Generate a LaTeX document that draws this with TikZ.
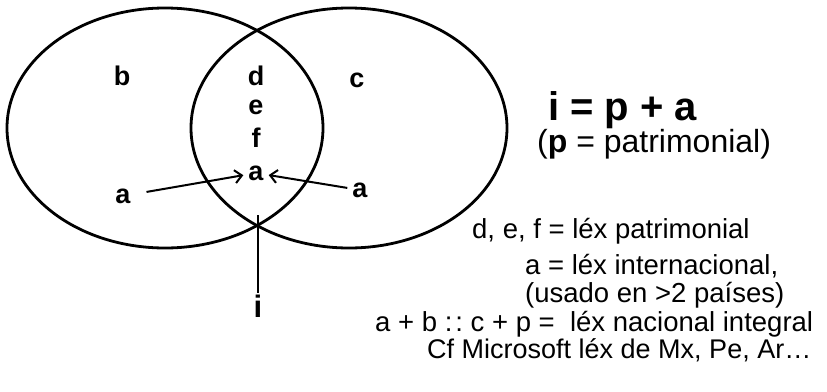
\documentclass[tikz,border=0pt]{standalone}
\usepackage{fontspec}
\setmainfont{Liberation Sans}
\usetikzlibrary{arrows.meta}
\tikzstyle{set} = [line width=2.8pt]
\tikzstyle{elem} = [font=\fontsize{27}{27}\selectfont\bfseries, inner sep=2pt]
\tikzstyle{arrow} = [line width=2pt,-{Straight Barb[length=7pt,width=13pt]}]
\tikzstyle{note} = [font=\fontsize{27.5}{29}\selectfont, anchor=base west, inner sep=0pt]

\begin{document}
\begin{tikzpicture}[x=1pt,y=-1pt]
\useasboundingbox (0,0) rectangle (827,391);

% the two sets
\draw[set] (165,128) ellipse [x radius=158pt, y radius=120pt];
\draw[set] (349,128) ellipse [x radius=158pt, y radius=120pt];

% elements
\node[elem] (b) at (122,76) {b};
\node[elem] (c) at (357,80) {c};
\node[elem] (d) at (256,76) {d};
\node[elem] (e) at (256,107) {e};
\node[elem] (f) at (256,138) {f};
\node[elem] (amid) at (256,173) {a};
\node[elem] (aleft) at (123,196) {a};
\node[elem] (aright) at (360,190) {a};
\node[elem, font=\fontsize{31}{31}\selectfont\bfseries] (i) at (258,306) {i};
\coordinate (ibot) at (258,215);

\draw[arrow, shorten <=14pt, shorten >=3pt] (aleft) -- (amid);
\draw[arrow, shorten <=3pt, shorten >=3pt] (aright) -- (amid);
\draw[line width=2.2pt] (ibot) -- (i);

% notes on the right
\node[note, font=\fontsize{40}{40}\selectfont\bfseries] (eq) at (548,120) {i = p + a};
\node[note, font=\fontsize{32}{32}\selectfont] (eqp) at (537,152) {(\textbf{p} = patrimonial)};
\node[note] (n1) at (472,238) {d, e, f = léx patrimonial};
\node[note] (n2) at (525,274) {a = léx internacional,};
\node[note] (n3) at (525,302) {(usado en >2 países)};
\node[note] (n4) at (375,331) {a + b\ :\kern3pt:\ c + p =\ \ léx nacional integral};
\node[note, font=\fontsize{27}{29}\selectfont] (n5) at (427,358) {Cf Microsoft léx de Mx, Pe, Ar…};

\end{tikzpicture}
\end{document}
